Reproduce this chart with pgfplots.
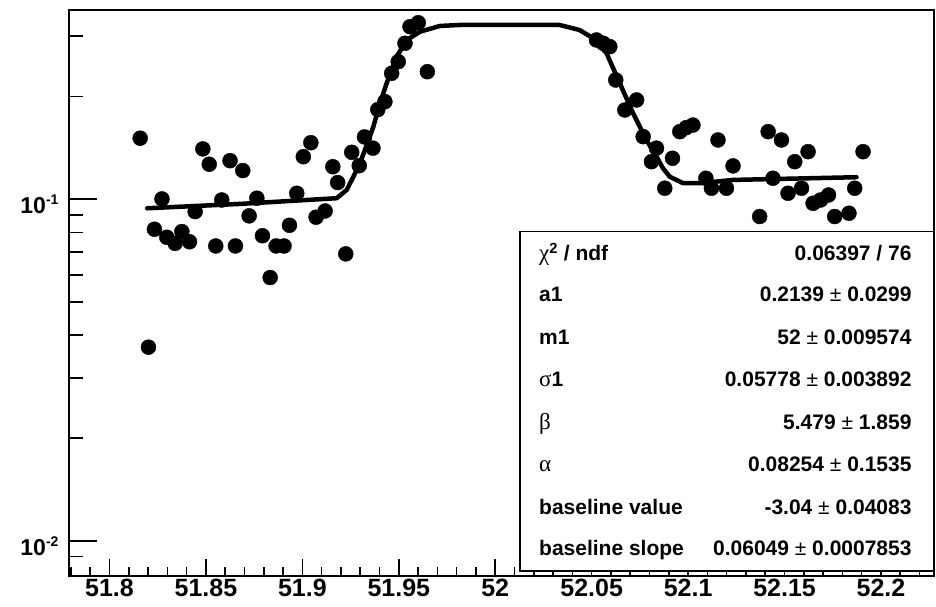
\documentclass[border=0pt]{standalone}
\usepackage{fontspec}
\setmainfont{Liberation Sans}
\newfontfamily\greekfont{Liberation Serif}
\usepackage{pgfplots}
\usepackage{pgfplotstable}
\pgfplotsset{compat=1.18}

% measured points
\pgfplotstableread{
x y
51.8159 0.1509
51.8202 0.0369
51.8233 0.0817
51.8272 0.1002
51.8297 0.0774
51.8340 0.0743
51.8375 0.0804
51.8415 0.0751
51.8444 0.0920
51.8484 0.1404
51.8517 0.1266
51.8551 0.0730
51.8582 0.0995
51.8625 0.1297
51.8653 0.0730
51.8691 0.1213
51.8724 0.0894
51.8764 0.1007
51.8793 0.0782
51.8833 0.0590
51.8864 0.0730
51.8905 0.0730
51.8933 0.0839
51.8971 0.1041
51.9005 0.1332
51.9044 0.1464
51.9071 0.0886
51.9118 0.0924
51.9158 0.1245
51.9183 0.1119
51.9225 0.0692
51.9256 0.1372
51.9295 0.1254
51.9322 0.1522
51.9366 0.1411
51.9391 0.1830
51.9428 0.1931
51.9463 0.2337
51.9497 0.2527
51.9532 0.2861
51.9558 0.3199
51.9601 0.3286
51.9648 0.2362
52.0525 0.2925
52.0560 0.2861
52.0594 0.2797
52.0625 0.2234
52.0672 0.1825
52.0733 0.1953
52.0767 0.1525
52.0810 0.1288
52.0836 0.1411
52.0879 0.1077
52.0919 0.1318
52.0957 0.1577
52.0990 0.1620
52.1025 0.1649
52.1092 0.1152
52.1121 0.1077
52.1155 0.1491
52.1199 0.1077
52.1233 0.1252
52.1371 0.0890
52.1415 0.1577
52.1440 0.1152
52.1484 0.1491
52.1518 0.1041
52.1553 0.1288
52.1588 0.1077
52.1622 0.1378
52.1648 0.0973
52.1687 0.0995
52.1728 0.1029
52.1760 0.0890
52.1834 0.0910
52.1864 0.1077
52.1907 0.1378
}\datatable

% fitted function, sampled
\pgfplotstableread{
x y
51.8195 0.0941
51.8677 0.0969
51.9178 0.1007
51.9230 0.1065
51.9264 0.1162
51.9299 0.1277
51.9334 0.1442
51.9368 0.1631
51.9403 0.1913
51.9437 0.2185
51.9489 0.2615
51.9541 0.2925
51.9610 0.3093
51.9713 0.3215
51.9817 0.3237
52.0333 0.3237
52.0437 0.3129
52.0508 0.2960
52.0577 0.2676
52.0646 0.2185
52.0715 0.1785
52.0784 0.1491
52.0836 0.1332
52.0870 0.1232
52.0905 0.1164
52.0974 0.1114
52.1061 0.1114
52.1233 0.1139
52.1873 0.1160
}\fittable

\pgfplotsset{
  rootframe/.style={
    scale only axis, width=865pt, height=565.7pt,
    at={(69pt,30.3pt)}, anchor=south west,
    xmin=51.779, xmax=52.2275,
    ymin=0.00791, ymax=0.358,
    axis line style={line width=1.6pt},
    tick style={line width=1.6pt, black},
    tick align=inside,
    xtick pos=bottom, ytick pos=left,
    tick label style={font=\fontsize{25}{30}\selectfont\bfseries},
  }
}

\begin{document}
\begin{tikzpicture}[x=1pt,y=1pt]
\useasboundingbox (0,0) rectangle (936,606);
% frame, y ticks and data
\begin{semilogyaxis}[rootframe,
  xtick=\empty,
  ytick={0.01,0.1},
  yticklabels={{10\raisebox{9pt}{\fontsize{14}{14}\selectfont\bfseries -2}},
               {10\raisebox{9pt}{\fontsize{14}{14}\selectfont\bfseries -1}}},
  yticklabel style={font=\fontsize{23}{28}\selectfont\bfseries, xshift=-7pt, yshift=-5pt},
  minor ytick={0.009,0.02,0.03,0.04,0.05,0.06,0.07,0.08,0.09,0.2,0.3},
  major tick length=28pt, minor tick length=14pt,
]
\addplot[black, line width=4.5pt, line join=round, line cap=round] table[x=x,y=y] {\fittable};
\addplot[only marks, mark=*, mark size=7.5pt, black, mark options={fill=black}] table[x=x,y=y] {\datatable};
\end{semilogyaxis}
% x ticks
\begin{semilogyaxis}[rootframe,
  ytick=\empty,
  xtick={51.8,51.85,51.9,51.95,52,52.05,52.1,52.15,52.2},
  xticklabels={51.8,51.85,51.9,51.95,52,52.05,52.1,52.15,52.2},
  minor xtick={51.78,51.79,51.81,51.82,51.83,51.84,51.86,51.87,51.88,51.89,
    51.91,51.92,51.93,51.94,51.96,51.97,51.98,51.99,52.01,52.02,52.03,52.04,
    52.06,52.07,52.08,52.09,52.11,52.12,52.13,52.14,52.16,52.17,52.18,52.19,52.21,52.22},
  major tick length=17pt, minor tick length=9pt,
]
\end{semilogyaxis}
% fit statistics box
\draw[line width=1.6pt, fill=white] (520,35.3) rectangle (934,374.3);
\begin{scope}[every node/.style={inner sep=0pt, font=\fontsize{21}{25}\selectfont\bfseries}]
\node[anchor=base west] at (539,345.3) {{\greekfont\mdseries\fontsize{23}{25}\selectfont χ}\textsuperscript{2} / ndf};
\node[anchor=base east] at (911.7,345.3) {0.06397 / 76};
\node[anchor=base west] at (539,304.3) {a1};
\node[anchor=base east] at (911.7,304.3) {0.2139 {\mdseries ±} 0.0299};
\node[anchor=base west] at (539,262) {m1};
\node[anchor=base east] at (911.7,262) {52 {\mdseries ±} 0.009574};
\node[anchor=base west] at (539,219.3) {{\greekfont\mdseries\fontsize{23}{25}\selectfont σ}1};
\node[anchor=base east] at (911.7,219.3) {0.05778 {\mdseries ±} 0.003892};
\node[anchor=base west] at (539,176.7) {{\greekfont\mdseries\fontsize{23}{25}\selectfont β}};
\node[anchor=base east] at (911.7,176.7) {5.479 {\mdseries ±} 1.859};
\node[anchor=base west] at (539,134.3) {{\greekfont\mdseries\fontsize{23}{25}\selectfont α}};
\node[anchor=base east] at (911.7,134.3) {0.08254 {\mdseries ±} 0.1535};
\node[anchor=base west] at (539,92) {baseline value};
\node[anchor=base east] at (911.7,92) {-3.04 {\mdseries ±} 0.04083};
\node[anchor=base west] at (539,51) {baseline slope};
\node[anchor=base east] at (911.7,51) {0.06049 {\mdseries ±} 0.0007853};
\end{scope}
\end{tikzpicture}
\end{document}
